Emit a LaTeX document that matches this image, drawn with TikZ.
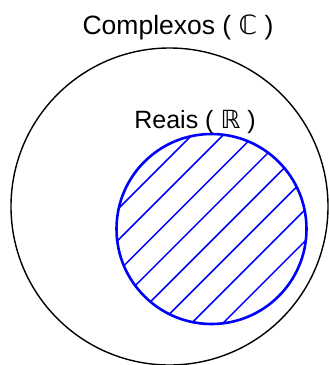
\documentclass[tikz,border=0pt]{standalone}
\usepackage{fontspec}
\setmainfont{Liberation Sans}
\newfontfamily\dsfont{DejaVu Sans}
\usetikzlibrary{positioning}
\begin{document}
\begin{tikzpicture}[
  x=1pt,y=-1pt,
  setline/.style={draw=black,line width=1.4pt,circle,inner sep=0pt},
  subset/.style={draw=blue,line width=2.6pt,circle,inner sep=0pt},
  hatch/.style={blue,line width=1.5pt},
  lbl/.style={inner sep=0pt,anchor=base},
]
\useasboundingbox (0,0) rectangle (329,365);
\node[setline,minimum size=317pt] (cc) at (169.5,206.5) {};
\node[lbl,font=\fontsize{26.5}{30}\selectfont] (cclbl) at (178,34) {Complexos ( {\dsfont ℂ} )};
\begin{scope}
  \clip (211.5,229) circle (95);
  \foreach \c in {327,358.3,...,547}
    \draw[hatch] (\c-350,350) -- (\c-100,100);
\end{scope}
\node[subset,minimum size=190pt] (rr) at (211.5,229) {};
\node[lbl,font=\fontsize{25}{29}\selectfont] (rrlbl) at (195,128) {Reais ( {\dsfont ℝ} )};
\end{tikzpicture}
\end{document}
